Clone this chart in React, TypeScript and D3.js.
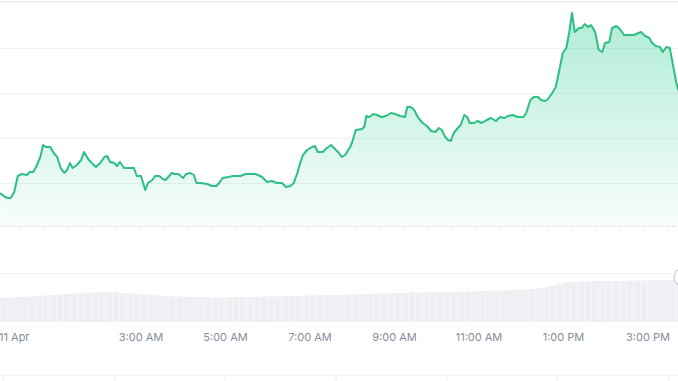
import React from "react";
import * as d3 from "d3";

// Price series: minutes since 00:00 on 11 Apr, and price index values
const priceMinutes = [
  -20, -13, -9, -5, 0, 5, 11, 18, 22, 27, 31, 37, 41, 45, 51, 56, 61, 66, 71, 75,
  79, 83, 89, 95, 99, 105, 110, 116, 122, 128, 132, 136, 142, 146, 150, 156, 164, 170, 174, 180,
  186, 190, 196, 200, 206, 211, 215, 220, 224, 228, 233, 240, 244, 250, 255, 259, 264, 274, 281, 287,
  291, 296, 304, 311, 321, 329, 335, 342, 346, 352, 359, 366, 373, 380, 386, 392, 397, 402, 406, 410,
  416, 423, 427, 431, 438, 444, 450, 457, 460, 465, 470, 477, 480, 485, 494, 497, 500, 504, 510, 515,
  521, 528, 535, 541, 548, 555, 558, 563, 568, 573, 580, 586, 592, 598, 603, 607, 612, 616, 620, 624,
  630, 634, 639, 643, 647, 653, 658, 664, 671, 677, 684, 690, 696, 701, 708, 715, 723, 727, 733, 738,
  744, 748, 754, 758, 764, 769, 775, 779, 784, 788, 792, 796, 802, 806, 810, 815, 819, 825, 830, 835,
  839, 845, 849, 855, 860, 866, 872, 880, 890, 896, 902, 906, 911, 917, 921, 926, 931, 936, 940, 943,
];
const priceValues = [
  35, 31, 30, 30, 36, 52, 54, 53, 56, 56, 61, 71, 83, 81, 81, 75, 71, 60, 55, 58,
  65, 60, 63, 68, 76, 69, 65, 61, 65, 71, 72, 66, 65, 62, 66, 60, 60, 60, 52, 52,
  38, 45, 48, 52, 52, 49, 48, 52, 55, 54, 54, 50, 54, 55, 53, 45, 45, 44, 42, 42,
  45, 50, 51, 52, 52, 54, 54, 54, 53, 51, 46, 47, 45, 45, 41, 42, 45, 55, 65, 73,
  78, 81, 82, 76, 76, 80, 83, 78, 76, 71, 73, 81, 86, 98, 99, 101, 112, 111, 114, 113,
  111, 112, 115, 114, 112, 111, 121, 121, 118, 111, 105, 102, 97, 96, 100, 98, 91, 88, 87, 95,
  100, 103, 113, 111, 105, 105, 107, 105, 108, 110, 107, 111, 110, 112, 113, 111, 111, 115, 128, 131,
  131, 128, 127, 129, 135, 141, 161, 175, 180, 195, 215, 196, 200, 200, 204, 201, 203, 196, 178, 176,
  185, 186, 200, 202, 199, 193, 193, 193, 196, 192, 190, 185, 182, 181, 176, 181, 180, 161, 146, 138,
];

// Volume: 10-minute buckets starting at -20 min
const volumeStart = -20;
const volumeStep = 10;
const volumeValues = [
  24, 24.5, 25, 25, 25.5, 26, 26.5, 27,
  27.5, 28, 28.5, 29, 29.5, 29.5, 30,
  30, 29.5, 29, 28.5, 28, 27.5, 27, 26.5, 26, 25.5,
  25.5, 25, 25, 25, 25, 24.5, 24.5, 25, 25, 25, 25, 25, 25.5, 25.5, 25.5,
  26, 26, 26, 26.5, 26.5, 27, 27, 27, 27,
  27.5, 27.5, 28, 28, 28.5, 28.5, 29, 29, 29, 29.5, 29.5, 29.5, 30, 30, 30, 30, 30.5, 30.5, 30.5, 31, 31, 31.5, 31.5, 32, 32,
  32.5, 33, 34, 35, 36.5, 38,
  39.5, 40, 40.5, 40.5, 41, 41, 41, 41, 41, 41.5, 41.5, 41.5, 41.5, 42, 42, 42, 42,
];

// X-axis tick labels (hours since 00:00 on 11 Apr)
const tickHours = [0, 3, 5, 7, 9, 11, 13, 15];
const tickLabels = ["11 Apr", "3:00 AM", "5:00 AM", "7:00 AM", "9:00 AM", "11:00 AM", "1:00 PM", "3:00 PM"];
const gridValues = [45, 90, 135, 180];

const W = 678;
const H = 381;

export default function App() {
  const x = d3.scaleLinear().domain([0, 60]).range([14.25, 14.25 + 42.25]);
  const y = d3.scaleLinear().domain([0, 225]).range([228, 3]);
  const plotBottom = 226;
  const vy = d3.scaleLinear().domain([0, 50]).range([322, 272]);

  const pts = priceMinutes.map((m, i) => [m, priceValues[i]] as [number, number]);
  const line = d3.line<[number, number]>().x((d) => x(d[0])).y((d) => y(d[1]));
  const area = d3
    .area<[number, number]>()
    .x((d) => x(d[0]))
    .y0(plotBottom)
    .y1((d) => y(d[1]));

  const maxV = d3.max(priceValues) as number;
  const nav = d3.scaleLinear().domain([0, 6]).range([3, 668]);

  return (
    <svg
      width={W}
      height={H}
      style={{ position: "absolute", left: 0, top: 0, background: "#fff" }}
      fontFamily="Inter, 'Noto Sans', sans-serif"
    >
      <defs>
        <linearGradient id="g" gradientUnits="userSpaceOnUse" x1="0" x2="0" y1={y(maxV)} y2={plotBottom}>
          <stop offset="0" stopColor="#16c784" stopOpacity={0.34} />
          <stop offset="1" stopColor="#16c784" stopOpacity={0.03} />
        </linearGradient>
      </defs>
      {/* top frame */}
      <line x1={0} x2={W} y1={2} y2={2} stroke="#eceef1" strokeWidth={2} />
      {/* grid */}
      {gridValues.map((g) => (
        <line key={g} x1={0} x2={W} y1={y(g) + 0.5} y2={y(g) + 0.5} stroke="#eff2f5" strokeWidth={1} />
      ))}
      <path d={area(pts) || ""} fill="url(#g)" />
      <line x1={0} x2={W} y1={plotBottom + 0.5} y2={plotBottom + 0.5} stroke="#c3c7cf" strokeWidth={1} strokeDasharray="1 2" />
      <path d={line(pts) || ""} fill="none" stroke="#2cbf84" strokeWidth={2} strokeLinejoin="round" />

      {/* volume */}
      <line x1={0} x2={W} y1={vy(49) + 0.5} y2={vy(49) + 0.5} stroke="#eff2f5" strokeWidth={1} />
      {volumeValues.map((v, i) => {
        const t0 = volumeStart + i * volumeStep;
        const x0 = x(t0);
        const x1 = x(t0 + volumeStep);
        return (
          <rect key={i} x={x0} y={vy(v)} width={Math.max(0, x1 - x0 - 0.4)} height={vy(0) - vy(v)} fill="#edeff3" />
        );
      })}

      {/* x labels */}
      {tickHours.map((h, i) => (
        <text key={h} x={x(h * 60)} y={341} textAnchor="middle" fontSize={11} fill="#858d9c">
          {tickLabels[i]}
        </text>
      ))}

      {/* navigator hint */}
      <line x1={0} x2={W} y1={375.5} y2={375.5} stroke="#f2f3f5" strokeWidth={1} />
      {d3.range(7).map((k) => (
        <line key={k} x1={nav(k) + 0.5} x2={nav(k) + 0.5} y1={376} y2={381} stroke="#eceef1" strokeWidth={1} />
      ))}
      <circle cx={W + 5} cy={277} r={9} fill="#fff" stroke="#c9ced8" strokeWidth={1.2} />
    </svg>
  );
}
